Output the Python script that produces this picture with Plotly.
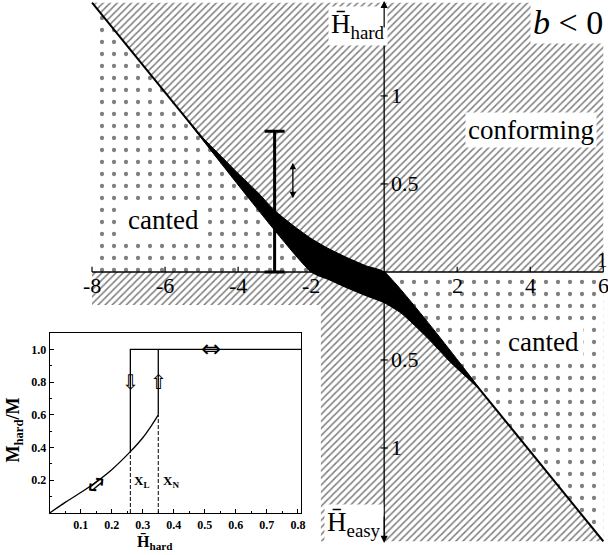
import plotly.graph_objects as go

# ---------------- main phase diagram data ----------------
x_min, x_max = -8, 6
y_lim = 1.53
slope = 0.255            # |slope| of the straight phase boundaries
upper_root = -2          # upper straight boundary crosses the H_easy axis here
x_ticks = [-8, -6, -4, -2, 2, 4, 6]
x_tick_text = ["-8", "-6", "-4", "-2", "2", "4", "6"]
y_ticks = [1, 0.5, -0.5, -1]
y_tick_text = ["1", "0.5", "0.5", "1"]

band_upper_x = [-5.5, -5, -4.5, -4, -3.5, -3, -2.5, -2, -1.5, -1, -0.5, 0]
band_upper_y = [0.8925, 0.77, 0.665, 0.56, 0.46, 0.35, 0.265, 0.19, 0.13, 0.08, 0.035, 0]
band_lower_x = [2.6, 2.29, 1.8, 1.21, 0.47, 0, -0.5, -1.08, -1.5, -2]
band_lower_y = [-0.663, -0.605, -0.51, -0.38, -0.235, -0.175, -0.135, -0.085, -0.045, 0]

bar_x, bar_lo, bar_hi = -3, 0.0, 0.8
arrow_x, arrow_lo, arrow_hi = -2.5, 0.41, 0.62

# ---------------- inset data ----------------
inset_h = [0, 0.05, 0.1, 0.15, 0.2, 0.26, 0.3, 0.33, 0.35]
inset_m = [0, 0.065, 0.125, 0.19, 0.265, 0.375, 0.46, 0.54, 0.6]
x_L, x_N = 0.26, 0.35
m_L, m_N = 0.375, 0.6
m_sat = 1.0
inset_h_max = 0.81
inset_m_max = 1.1
inset_xticks = [0.1, 0.2, 0.3, 0.4, 0.5, 0.6, 0.7, 0.8]
inset_yticks = [0.2, 0.4, 0.6, 0.8, 1.0]

# ---------------- layout constants ----------------
W, H = 608, 555
xr = [-10.52, 6.02]
yr = [-1.608, 1.545]
inset_dom_x = [50 / W, 303 / W]
inset_dom_y = [(H - 513) / H, (H - 333) / H]
SERIF = "Liberation Serif"

def px2x(p):
    return xr[0] + p * (xr[1] - xr[0])

def py2y(p):
    return yr[0] + p * (yr[1] - yr[0])

def ix2p(v):  # inset x value -> paper fraction
    return inset_dom_x[0] + v / inset_h_max * (inset_dom_x[1] - inset_dom_x[0])

def iy2p(v):  # inset y value -> paper fraction
    return inset_dom_y[0] + v / inset_m_max * (inset_dom_y[1] - inset_dom_y[0])

fig = go.Figure()

hatch = dict(shape="/", fgcolor="black", bgcolor="white", size=5, solidity=0.3)
dots = dict(shape=".", fgcolor="black", bgcolor="white", size=12, solidity=0.1)

# hatched (conforming) background
fig.add_trace(go.Scatter(
    x=[x_min, x_max, x_max, x_min, x_min], y=[y_lim, y_lim, -y_lim, -y_lim, y_lim],
    fill="toself", mode="none", hoverinfo="skip", fillpattern=hatch))

# dotted canted regions
ul_y = -slope * (x_min - upper_root)
fig.add_trace(go.Scatter(
    x=[x_min, x_min, upper_root, x_min], y=[0, ul_y, 0, 0],
    fill="toself", mode="none", hoverinfo="skip", fillpattern=dots))
fig.add_trace(go.Scatter(
    x=[0, x_max, x_max, 0], y=[0, 0, -slope * x_max, 0],
    fill="toself", mode="none", hoverinfo="skip", fillpattern=dots))

# white backdrop behind inset (derived from inset domain)
cx0, cx1 = px2x(0), px2x(inset_dom_x[1] + 20 / W)
cy0, cy1 = py2y(0), py2y(inset_dom_y[1] + 28 / H)
fig.add_trace(go.Scatter(
    x=[cx0, cx1, cx1, cx0, cx0], y=[cy0, cy0, cy1, cy1, cy0],
    fill="toself", fillcolor="white", mode="none", hoverinfo="skip"))

# straight boundaries
fig.add_trace(go.Scatter(x=[x_min, upper_root], y=[ul_y, 0], mode="lines",
                         line=dict(color="black", width=2), hoverinfo="skip"))
fig.add_trace(go.Scatter(x=[0, x_max], y=[0, -slope * x_max], mode="lines",
                         line=dict(color="black", width=2), hoverinfo="skip"))

# black coexistence band
fig.add_trace(go.Scatter(
    x=band_upper_x + band_lower_x + [band_upper_x[0]],
    y=band_upper_y + band_lower_y + [band_upper_y[0]],
    fill="toself", fillcolor="black", mode="lines", line_shape="spline",
    line=dict(color="black", width=1, smoothing=0.6), hoverinfo="skip"))

# axes
fig.add_trace(go.Scatter(x=[x_min, x_max], y=[0, 0], mode="lines",
                         line=dict(color="black", width=1.5), hoverinfo="skip"))
fig.add_trace(go.Scatter(x=[0, 0], y=[-y_lim, y_lim], mode="lines",
                         line=dict(color="black", width=1.3), hoverinfo="skip"))
tx, ty = [], []
for t in x_ticks:
    tx += [t, t, None]
    ty += [0, 0.03, None]
for t in y_ticks:
    tx += [-0.1, 0.1, None]
    ty += [t, t, None]
fig.add_trace(go.Scatter(x=tx, y=ty, mode="lines", line=dict(color="black", width=1.2),
                         hoverinfo="skip"))

# range bar
fig.add_trace(go.Scatter(
    x=[bar_x], y=[(bar_lo + bar_hi) / 2], mode="markers", marker=dict(size=0.1, color="black"),
    error_y=dict(type="data", array=[(bar_hi - bar_lo) / 2], color="black", thickness=3, width=10),
    hoverinfo="skip"))

# ---------------- inset traces ----------------
ink = dict(color="black", width=1.3)
fig.add_trace(go.Scatter(x=inset_h, y=inset_m, mode="lines", line=ink, line_shape="spline",
                         xaxis="x2", yaxis="y2"))
fig.add_trace(go.Scatter(x=[x_L, x_L, inset_h_max], y=[m_L, m_sat, m_sat], mode="lines",
                         line=ink, xaxis="x2", yaxis="y2"))
fig.add_trace(go.Scatter(x=[x_N, x_N], y=[m_N, m_sat], mode="lines",
                         line=ink, xaxis="x2", yaxis="y2"))
fig.add_trace(go.Scatter(x=[x_L, x_L, None, x_N, x_N], y=[0, m_L, None, 0, m_N], mode="lines",
                         line=dict(color="black", width=1, dash="4px,2px"), xaxis="x2", yaxis="y2"))

ann = []
def txt(x, y, s, size, xanchor="center", yanchor="middle", bg=None, xref="x", yref="y",
        angle=0, bold=False, family=SERIF, pad=1):
    font = dict(family=family, size=size, color="black")
    if bold:
        font["weight"] = "bold"
    d = dict(x=x, y=y, text=s, showarrow=False, xref=xref, yref=yref, xanchor=xanchor,
             yanchor=yanchor, textangle=angle, borderpad=pad, font=font)
    if bg:
        d["bgcolor"] = bg
    ann.append(d)

for t, s in zip(x_ticks, x_tick_text):
    txt(t, -0.075, s, 22)
for t, s in zip(y_ticks, y_tick_text):
    txt(0.12, t, s, 22, xanchor="left")
txt(5.78, 0.07, "1", 21, xanchor="left")

txt(-6.03, 0.295, "canted", 27, bg="white", pad=4)
txt(4.01, 0.807, "conforming", 27, bg="white", pad=2)
txt(4.35, -0.40, "canted", 27, bg="white", pad=4)
txt(-1.55, 1.40, "H\u0304<sub>hard</sub>", 27, xanchor="left", bg="white", pad=2)
txt(-1.65, -1.43, "H\u0304<sub>easy</sub>", 27, xanchor="left", bg="white", pad=2)
txt(4.0, 1.42, "<i>b</i> &lt; 0", 34, xanchor="left", bg="white", pad=2)

# axis arrowheads and small double arrow
for yh, yt in [(y_lim + 0.01, y_lim - 0.15), (-y_lim - 0.01, -y_lim + 0.15)]:
    ann.append(dict(x=0, y=yh, ax=0, ay=yt, xref="x", yref="y", axref="x", ayref="y",
                    text="", showarrow=True, arrowhead=2, arrowsize=1.2, arrowwidth=1.2,
                    arrowcolor="black"))
ann.append(dict(x=arrow_x, y=arrow_hi, ax=arrow_x, ay=arrow_lo, xref="x", yref="y",
                axref="x", ayref="y", text="", showarrow=True, arrowhead=2, startarrowhead=2,
                arrowside="end+start", arrowsize=1, startarrowsize=1, arrowwidth=1.3,
                arrowcolor="black"))

# inset texts (paper coordinates derived from inset axes)
txt(ix2p(0.265), iy2p(0.19), "X<sub>L</sub>", 13, xanchor="left", xref="paper", yref="paper", bold=True)
txt(ix2p(0.36), iy2p(0.19), "X<sub>N</sub>", 13, xanchor="left", xref="paper", yref="paper", bold=True)
txt(ix2p(x_L), iy2p(0.80), "\u21e9", 20, xref="paper", yref="paper", family="DejaVu Sans")
txt(ix2p(x_N), iy2p(0.80), "\u21e7", 20, xref="paper", yref="paper", family="DejaVu Sans")
txt(ix2p(0.52), iy2p(m_sat + 0.005), "\u21d4", 24, xref="paper", yref="paper", family="DejaVu Sans")
txt(ix2p(0.15), iy2p(0.175), "\u21d4", 24, xref="paper", yref="paper", family="DejaVu Sans", angle=-40)
txt(ix2p(0.34), iy2p(-0.175), "H\u0304<sub>hard</sub>", 16, xref="paper", yref="paper", bold=True)
txt(ix2p(-0.112), iy2p(0.51), "M<sub>hard</sub>/M", 18, xref="paper", yref="paper", bold=True, angle=-90)

fig.update_layout(
    width=W, height=H, margin=dict(l=0, r=0, t=0, b=0),
    paper_bgcolor="white", plot_bgcolor="rgba(0,0,0,0)", showlegend=False,
    xaxis=dict(range=xr, domain=[0, 1], visible=False),
    yaxis=dict(range=yr, domain=[0, 1], visible=False),
    xaxis2=dict(domain=inset_dom_x, anchor="y2", range=[0, inset_h_max], showline=True,
                mirror=True, linecolor="black", linewidth=1.2, ticks="inside", ticklen=4,
                tickcolor="black", tickvals=inset_xticks, tickformat=".1f", showgrid=False,
                zeroline=False,
                minor=dict(ticks="inside", tickvals=[0.05, 0.15, 0.25, 0.35, 0.45, 0.55, 0.65, 0.75],
                           ticklen=2, tickcolor="black"),
                tickfont=dict(family=SERIF, size=12, color="black", weight="bold")),
    yaxis2=dict(domain=inset_dom_y, anchor="x2", range=[0, inset_m_max], showline=True,
                mirror=True, linecolor="black", linewidth=1.2, ticks="inside", ticklen=4,
                tickcolor="black", tickvals=inset_yticks, tickformat=".1f", showgrid=False,
                zeroline=False,
                minor=dict(ticks="inside", tickvals=[0.1, 0.3, 0.5, 0.7, 0.9], ticklen=2,
                           tickcolor="black"),
                tickfont=dict(family=SERIF, size=12, color="black", weight="bold")),
    annotations=ann,
)

fig.write_html("out.html")
